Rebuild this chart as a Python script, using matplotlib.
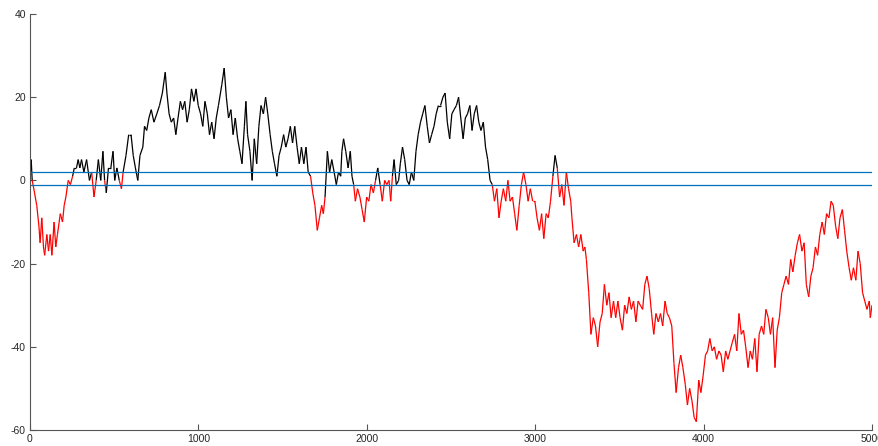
import numpy as np
import matplotlib
matplotlib.use("Agg")
import matplotlib.pyplot as plt
from matplotlib.collections import LineCollection

# Step index of each recorded vertex of the walk
steps = [
    0, 7, 13, 27, 40, 53, 60, 70, 80, 87,
    100, 110, 120, 130, 143, 153, 163, 180, 193, 203,
    213, 227, 240, 253, 263, 276, 286, 296, 306, 320,
    336, 353, 366, 380, 393, 406, 420, 433, 443, 453,
    466, 480, 493, 503, 516, 530, 543, 553, 570, 586,
    600, 613, 626, 640, 653, 670, 680, 693, 706, 720,
    736, 753, 769, 786, 803, 813, 826, 839, 853, 866,
    879, 893, 906, 919, 933, 946, 959, 973, 986, 999,
    1013, 1026, 1039, 1053, 1066, 1079, 1093, 1106, 1119, 1139,
    1153, 1166, 1179, 1193, 1206, 1219, 1233, 1246, 1259, 1273,
    1282, 1292, 1306, 1319, 1332, 1346, 1359, 1372, 1386, 1399,
    1412, 1426, 1439, 1452, 1466, 1479, 1492, 1506, 1519, 1532,
    1546, 1559, 1572, 1586, 1599, 1612, 1626, 1639, 1652, 1666,
    1679, 1692, 1706, 1719, 1732, 1742, 1752, 1766, 1779, 1792,
    1806, 1819, 1832, 1845, 1852, 1862, 1875, 1889, 1902, 1912,
    1922, 1932, 1945, 1959, 1972, 1985, 1999, 2012, 2025, 2039,
    2052, 2065, 2079, 2092, 2106, 2119, 2132, 2142, 2152, 2162,
    2175, 2189, 2199, 2212, 2225, 2239, 2252, 2265, 2279, 2292,
    2305, 2319, 2332, 2345, 2359, 2372, 2385, 2399, 2412, 2425,
    2438, 2452, 2465, 2478, 2492, 2505, 2518, 2532, 2545, 2558,
    2572, 2585, 2598, 2612, 2625, 2638, 2652, 2665, 2678, 2692,
    2705, 2718, 2732, 2745, 2758, 2772, 2785, 2798, 2811, 2825,
    2838, 2851, 2865, 2878, 2891, 2905, 2918, 2931, 2945, 2958,
    2971, 2985, 2998, 3011, 3025, 3038, 3051, 3065, 3078, 3091,
    3105, 3118, 3131, 3145, 3158, 3171, 3185, 3198, 3211, 3218,
    3231, 3245, 3258, 3271, 3285, 3295, 3304, 3318, 3331, 3345,
    3358, 3371, 3385, 3398, 3411, 3425, 3438, 3451, 3465, 3478,
    3491, 3504, 3518, 3531, 3544, 3558, 3571, 3584, 3598, 3611,
    3624, 3638, 3651, 3664, 3677, 3691, 3704, 3717, 3731, 3744,
    3757, 3771, 3784, 3797, 3811, 3824, 3837, 3851, 3864, 3877,
    3891, 3904, 3917, 3931, 3944, 3957, 3971, 3984, 3997, 4011,
    4024, 4037, 4051, 4064, 4077, 4091, 4104, 4117, 4131, 4144,
    4157, 4170, 4184, 4197, 4210, 4224, 4237, 4250, 4264, 4277,
    4290, 4304, 4317, 4330, 4344, 4357, 4370, 4384, 4397, 4410,
    4424, 4437, 4450, 4464, 4477, 4490, 4504, 4517, 4530, 4544,
    4557, 4570, 4584, 4597, 4610, 4624, 4637, 4650, 4664, 4677,
    4690, 4704, 4717, 4730, 4744, 4757, 4770, 4784, 4797, 4810,
    4824, 4837, 4850, 4864, 4877, 4890, 4904, 4917, 4930, 4944,
    4957, 4970, 4984, 4990, 5000,
]

# Walk position at each of those steps
walk = [
    0, 5, 0, -3, -6, -11, -15, -9, -16, -18,
    -13, -17, -13, -18, -10, -16, -13, -8, -10, -6,
    -4, 0, -1, 1, 3, 3, 5, 3, 5, 2,
    5, 0, 2, -4, 0, 5, 0, 7, 0, -3,
    3, 3, 7, 0, 3, 0, -2, 2, 6, 11,
    11, 6, 3, 0, 6, 8, 13, 12, 15, 17,
    14, 16, 18, 21, 26, 21, 16, 14, 15, 11,
    15, 19, 17, 19, 14, 17, 22, 19, 22, 18,
    16, 13, 19, 16, 11, 14, 10, 15, 18, 23,
    27, 20, 15, 17, 11, 15, 10, 7, 4, 13,
    19, 11, 7, 0, 10, 4, 13, 18, 16, 20,
    16, 11, 7, 4, 1, 6, 8, 11, 8, 10,
    13, 9, 13, 8, 4, 8, 4, 8, 2, 1,
    -3, -6, -12, -9, -6, -8, -4, 7, 2, 5,
    2, -1, 2, 1, 7, 10, 7, 3, 7, 1,
    -1, -5, -2, -4, -7, -10, -4, -5, -1, -3,
    0, 3, -1, -5, 0, -1, 0, -5, 1, 5,
    -1, 0, 4, 8, 5, 0, -1, 2, 0, 7,
    11, 14, 16, 18, 13, 9, 11, 13, 16, 18,
    18, 20, 21, 14, 10, 16, 17, 18, 20, 15,
    10, 15, 16, 18, 12, 16, 18, 14, 12, 14,
    8, 5, 0, -1, -5, -2, -9, -5, -2, -5,
    0, -5, -4, -8, -12, -6, -1, 2, -1, -5,
    -2, -5, -5, -9, -12, -8, -14, -8, -9, -5,
    1, 6, 3, -4, -1, -6, 2, -2, -5, -9,
    -15, -13, -16, -13, -17, -16, -19, -27, -37, -33,
    -35, -40, -34, -32, -25, -30, -27, -33, -29, -33,
    -29, -33, -36, -30, -32, -28, -31, -29, -34, -29,
    -30, -31, -25, -23, -26, -32, -37, -32, -34, -32,
    -35, -29, -32, -33, -35, -44, -51, -45, -42, -45,
    -49, -54, -50, -53, -57, -58, -48, -51, -47, -42,
    -41, -38, -41, -40, -43, -41, -42, -46, -41, -43,
    -41, -39, -37, -41, -32, -37, -36, -40, -45, -41,
    -43, -38, -46, -37, -35, -37, -31, -33, -37, -33,
    -45, -36, -33, -27, -25, -23, -25, -19, -22, -18,
    -15, -13, -17, -15, -25, -28, -23, -21, -16, -18,
    -13, -10, -13, -8, -9, -5, -6, -11, -14, -9,
    -7, -12, -17, -21, -24, -21, -24, -17, -20, -27,
    -29, -31, -29, -33, -30,
]

# Switching thresholds (upper / lower)
upper_level = 2
lower_level = -1

x_ticks = [0, 1000, 2000, 3000, 4000, 5000]
y_ticks = [-60, -40, -20, 0, 20, 40]

x = np.asarray(steps, dtype=float)
y = np.asarray(walk, dtype=float)

# Hysteresis state: "high" until the walk drops below the lower level,
# "low" until it climbs above the upper level again.
state = np.zeros(len(y), dtype=bool)
high = True
for i, v in enumerate(y):
    if high and v < lower_level:
        high = False
    elif not high and v > upper_level:
        high = True
    state[i] = high

points = np.column_stack([x, y])
segments = np.stack([points[:-1], points[1:]], axis=1)
colors = ["#000000" if s else "#ff0000" for s in state[1:]]

fig = plt.figure(figsize=(8.79, 4.46), dpi=100)
ax = fig.add_axes([30 / 879, 16 / 446, 842 / 879, 416 / 446])

lc = LineCollection(segments, colors=colors, linewidths=0.9)
ax.add_collection(lc)

ax.axhline(upper_level, color="#0072BD", lw=0.9)
ax.axhline(lower_level, color="#0072BD", lw=0.9)

ax.set_xlim(0, 5000)
ax.set_ylim(-60, 40)
ax.set_xticks(x_ticks)
ax.set_yticks(y_ticks)
ax.set_xticklabels([str(t) for t in x_ticks])
ax.set_yticklabels([str(t) for t in y_ticks])

for side in ("top", "right"):
    ax.spines[side].set_visible(False)
for side in ("left", "bottom"):
    ax.spines[side].set_color("#555555")
    ax.spines[side].set_linewidth(0.8)

ax.tick_params(direction="in", length=4, width=0.8, color="#555555",
               labelcolor="#262626", labelsize=7.5, pad=3)
for lab in ax.get_xticklabels() + ax.get_yticklabels():
    lab.set_fontfamily("Liberation Sans")

fig.savefig("out.png", dpi=100)
